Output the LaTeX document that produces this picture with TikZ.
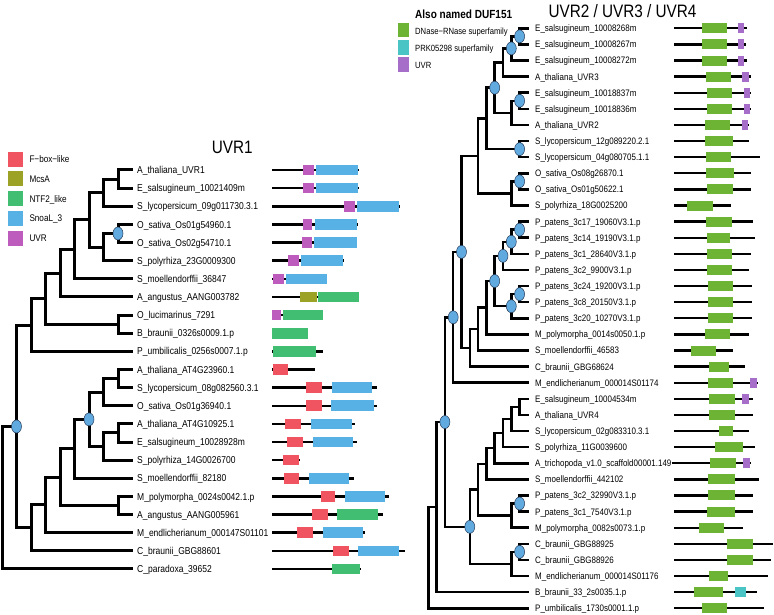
\documentclass[tikz,border=0pt]{standalone}
\usepackage{fontspec}
\setmainfont{Liberation Sans}[FakeStretch=0.85]
\usetikzlibrary{shapes.geometric}
\definecolor{cfbox}{RGB}{240,84,96}
\definecolor{cmcsa}{RGB}{155,162,38}
\definecolor{cntf}{RGB}{66,190,114}
\definecolor{csnoal}{RGB}{88,177,228}
\definecolor{cuvrl}{RGB}{190,92,190}
\definecolor{cdnase}{RGB}{110,180,52}
\definecolor{cprk}{RGB}{74,196,196}
\definecolor{cuvrr}{RGB}{166,110,200}
\definecolor{cbub}{RGB}{96,170,224}
\newcommand\YL[1]{170+18.136*#1}
\newcommand\YR[1]{28.3+16.11*#1}
\newcommand\mkLeafL[2]{\coordinate (L#1) at (132.5,{\YL{#1}}); \node[llab] (LT#1) at (137,{\YL{#1}}) {#2};}
\newcommand\mkNodeL[3]{\coordinate (#1) at ({2+14.5*#2},{\YL{#3}});}
\newcommand\mkEdgeL[2]{\draw[lbr] (#1) |- (#2);}
\newcommand\mkArchL[2]{\draw[larch] (272,{\YL{#1}}) -- (#2,{\YL{#1}});}
\newcommand\mkDomL[4]{\fill[#2] (#3,{\YL{#1}-5.3}) rectangle (#4,{\YL{#1}+5.3});}
\newcommand\mkLeafR[2]{\coordinate (R#1) at (528.5,{\YR{#1}}); \node[rlab] (RT#1) at (535,{\YR{#1}}) {#2};}
\newcommand\mkNodeR[3]{\coordinate (#1) at ({428.3+8.3*#2},{\YR{#3}});}
\newcommand\mkEdgeR[2]{\draw[rbr] (#1) |- (#2);}
\newcommand\mkArchR[2]{\draw[rarch] (674,{\YR{#1}}) -- (#2,{\YR{#1}});}
\newcommand\mkDomR[4]{\fill[#2] (#3,{\YR{#1}-5}) rectangle (#4,{\YR{#1}+5});}
\begin{document}
\begin{tikzpicture}[x=1pt,y=-1pt,
  llab/.style={anchor=west,inner xsep=0pt,inner ysep=0pt,text height=7.2pt,text depth=0pt,font=\fontsize{10}{10}\selectfont},
  rlab/.style={anchor=west,inner xsep=0pt,inner ysep=0pt,text height=6.8pt,text depth=0pt,font=\fontsize{9.4}{10}\selectfont},
  leglab/.style={anchor=west,inner xsep=0pt,inner ysep=0pt,text height=6.8pt,text depth=0pt,font=\fontsize{9.6}{10}\selectfont},
  rleglab/.style={anchor=west,inner xsep=0pt,inner ysep=0pt,text height=6.4pt,text depth=0pt,font=\fontsize{9}{10}\selectfont},
  lbr/.style={line width=3pt},
  rbr/.style={line width=2.5pt},
  larch/.style={line width=2.5pt},
  rarch/.style={line width=2.4pt},
  bub/.style={ellipse,fill=cbub,draw={rgb,255:red,40;green,60;blue,90},line width=0.5pt,minimum width=10pt,minimum height=13pt,inner sep=0pt},
  titl/.style={inner sep=0pt,text height=13pt,text depth=0pt,font=\fontsize{18}{18}\selectfont}
]
\useasboundingbox (0,0) rectangle (774,615);

% ---------------- titles ----------------
\node[titl] (t1) at (232.3,146.8) {UVR1};
\node[titl] (t2) at (622.5,11.5) {UVR2 / UVR3 / UVR4};

% ---------------- left legend ----------------
\foreach \k/\c/\t in {0/cfbox/F−box−like,1/cmcsa/McsA,2/cntf/NTF2\_like,3/csnoal/SnoaL\_3,4/cuvrl/UVR}{
  \fill[\c] (8.3,{159.3+19.7*\k-7.5}) rectangle (22.7,{159.3+19.7*\k+7.5});
  \node[leglab] (lg\k) at (29.3,{159.3+19.7*\k}) {\t};
}

% ---------------- right legend ----------------
\node[anchor=west,inner sep=0pt,text height=8pt,text depth=0pt,font=\fontsize{11.8}{12}\selectfont\bfseries] (rlh) at (415,15) {Also named DUF151};
\foreach \k/\c/\t in {0/cdnase/DNase−RNase superfamily,1/cprk/PRK05298 superfamily,2/cuvrr/UVR}{
  \fill[\c] (398.3,{30+17.4*\k-7.4}) rectangle (409.3,{30+17.4*\k+7.4});
  \node[rleglab] (rl\k) at (415,{31+17.4*\k}) {\t};
}

% ---------------- left tree leaves ----------------
\mkLeafL{0}{A\_thaliana\_UVR1}
\mkLeafL{1}{E\_salsugineum\_10021409m}
\mkLeafL{2}{S\_lycopersicum\_09g011730.3.1}
\mkLeafL{3}{O\_sativa\_Os01g54960.1}
\mkLeafL{4}{O\_sativa\_Os02g54710.1}
\mkLeafL{5}{S\_polyrhiza\_23G0009300}
\mkLeafL{6}{S\_moellendorffii\_36847}
\mkLeafL{7}{A\_angustus\_AANG003782}
\mkLeafL{8}{O\_lucimarinus\_7291}
\mkLeafL{9}{B\_braunii\_0326s0009.1.p}
\mkLeafL{10}{P\_umbilicalis\_0256s0007.1.p}
\mkLeafL{11}{A\_thaliana\_AT4G23960.1}
\mkLeafL{12}{S\_lycopersicum\_08g082560.3.1}
\mkLeafL{13}{O\_sativa\_Os01g36940.1}
\mkLeafL{14}{A\_thaliana\_AT4G10925.1}
\mkLeafL{15}{E\_salsugineum\_10028928m}
\mkLeafL{16}{S\_polyrhiza\_14G0026700}
\mkLeafL{17}{S\_moellendorffii\_82180}
\mkLeafL{18}{M\_polymorpha\_0024s0042.1.p}
\mkLeafL{19}{A\_angustus\_AANG005961}
\mkLeafL{20}{M\_endlicherianum\_000147S01101}
\mkLeafL{21}{C\_braunii\_GBG88601}
\mkLeafL{22}{C\_paradoxa\_39652}

% ---------------- left tree internal nodes ----------------
\mkNodeL{a01}{8}{0.5}
\mkNodeL{a012}{7}{1.25}
\mkNodeL{a34}{8}{3.5}
\mkNodeL{a345}{7}{4.25}
\mkNodeL{a05}{6}{2.75}
\mkNodeL{a06}{5}{4.375}
\mkNodeL{a07}{4}{5.6875}
\mkNodeL{a89}{8}{8.5}
\mkNodeL{a09}{3}{7.09375}
\mkNodeL{a010}{2}{8.546875}
\mkNodeL{b1112}{8}{11.5}
\mkNodeL{b1113}{7}{12.25}
\mkNodeL{b1415}{8}{14.5}
\mkNodeL{b1416}{7}{15.25}
\mkNodeL{b1116}{6}{13.75}
\mkNodeL{b1117}{5}{15.375}
\mkNodeL{b1819}{8}{18.5}
\mkNodeL{b1119}{4}{16.9375}
\mkNodeL{b1120}{3}{18.46875}
\mkNodeL{b1121}{2}{19.734375}
\mkNodeL{aA}{1}{14.140625}
\mkNodeL{aroot}{0}{18.0703125}

\mkEdgeL{a01}{L0}\mkEdgeL{a01}{L1}
\mkEdgeL{a012}{a01}\mkEdgeL{a012}{L2}
\mkEdgeL{a34}{L3}\mkEdgeL{a34}{L4}
\mkEdgeL{a345}{a34}\mkEdgeL{a345}{L5}
\mkEdgeL{a05}{a012}\mkEdgeL{a05}{a345}
\mkEdgeL{a06}{a05}\mkEdgeL{a06}{L6}
\mkEdgeL{a07}{a06}\mkEdgeL{a07}{L7}
\mkEdgeL{a89}{L8}\mkEdgeL{a89}{L9}
\mkEdgeL{a09}{a07}\mkEdgeL{a09}{a89}
\mkEdgeL{a010}{a09}\mkEdgeL{a010}{L10}
\mkEdgeL{b1112}{L11}\mkEdgeL{b1112}{L12}
\mkEdgeL{b1113}{b1112}\mkEdgeL{b1113}{L13}
\mkEdgeL{b1415}{L14}\mkEdgeL{b1415}{L15}
\mkEdgeL{b1416}{b1415}\mkEdgeL{b1416}{L16}
\mkEdgeL{b1116}{b1113}\mkEdgeL{b1116}{b1416}
\mkEdgeL{b1117}{b1116}\mkEdgeL{b1117}{L17}
\mkEdgeL{b1819}{L18}\mkEdgeL{b1819}{L19}
\mkEdgeL{b1119}{b1117}\mkEdgeL{b1119}{b1819}
\mkEdgeL{b1120}{b1119}\mkEdgeL{b1120}{L20}
\mkEdgeL{b1121}{b1120}\mkEdgeL{b1121}{L21}
\mkEdgeL{aA}{a010}\mkEdgeL{aA}{b1121}
\mkEdgeL{aroot}{aA}\mkEdgeL{aroot}{L22}

\node[bub] (ca34) at (a34) {};
\node[bub] (cb1116) at (b1116) {};
\node[bub] (caA) at (aA) {};

% ---------------- left domain architectures ----------------
\mkArchL{0}{359}\mkDomL{0}{cuvrl}{303.3}{314.3}\mkDomL{0}{csnoal}{316}{358.3}
\mkArchL{1}{359}\mkDomL{1}{cuvrl}{303.3}{314.3}\mkDomL{1}{csnoal}{316}{358.3}
\mkArchL{2}{399.5}\mkDomL{2}{cuvrl}{344.3}{355.3}\mkDomL{2}{csnoal}{357}{399}
\mkArchL{3}{358.3}\mkDomL{3}{cuvrl}{302.7}{312.3}\mkDomL{3}{csnoal}{315.3}{357.3}
\mkArchL{4}{357.3}\mkDomL{4}{cuvrl}{301.7}{312.3}\mkDomL{4}{csnoal}{314.3}{356.7}
\mkArchL{5}{344}\mkDomL{5}{cuvrl}{288.3}{299.3}\mkDomL{5}{csnoal}{301}{343.3}
\mkArchL{6}{326}\mkDomL{6}{cuvrl}{273.3}{284}\mkDomL{6}{csnoal}{286}{326.7}
\mkArchL{7}{359}\mkDomL{7}{cmcsa}{300.3}{316.7}\mkDomL{7}{cntf}{318.3}{359}
\mkArchL{8}{323}\mkDomL{8}{cuvrl}{272.3}{281}\mkDomL{8}{cntf}{282.7}{323.3}
\mkArchL{9}{307}\mkDomL{9}{cntf}{272.3}{307.7}
\mkArchL{10}{322.7}\mkDomL{10}{cntf}{273}{316}
\mkArchL{11}{315}\mkDomL{11}{cfbox}{273}{288.3}
\mkArchL{12}{376.7}\mkDomL{12}{cfbox}{306}{322}\mkDomL{12}{csnoal}{332}{372}
\mkArchL{13}{376.7}\mkDomL{13}{cfbox}{306}{321.7}\mkDomL{13}{csnoal}{331.3}{374}
\mkArchL{14}{354.7}\mkDomL{14}{cfbox}{285}{301}\mkDomL{14}{csnoal}{310.7}{351.7}
\mkArchL{15}{356.7}\mkDomL{15}{cfbox}{287.3}{303.3}\mkDomL{15}{csnoal}{312.7}{353.3}
\mkArchL{16}{300}\mkDomL{16}{cfbox}{283}{298.7}
\mkArchL{17}{354}\mkDomL{17}{cfbox}{283.7}{299.3}\mkDomL{17}{csnoal}{309}{349.3}
\mkArchL{18}{389.3}\mkDomL{18}{cfbox}{321}{335}\mkDomL{18}{csnoal}{344.7}{385.3}
\mkArchL{19}{382.7}\mkDomL{19}{cfbox}{312}{328}\mkDomL{19}{cntf}{337.3}{377.7}
\mkArchL{20}{365.3}\mkDomL{20}{cfbox}{297.3}{313.3}\mkDomL{20}{csnoal}{322.7}{363.3}
\mkArchL{21}{405}\mkDomL{21}{cfbox}{333}{348.7}\mkDomL{21}{csnoal}{358.3}{398.7}
\mkArchL{22}{360.7}\mkDomL{22}{cntf}{332}{360}

% ---------------- right tree leaves ----------------
\mkLeafR{0}{E\_salsugineum\_10008268m}
\mkLeafR{1}{E\_salsugineum\_10008267m}
\mkLeafR{2}{E\_salsugineum\_10008272m}
\mkLeafR{3}{A\_thaliana\_UVR3}
\mkLeafR{4}{E\_salsugineum\_10018837m}
\mkLeafR{5}{E\_salsugineum\_10018836m}
\mkLeafR{6}{A\_thaliana\_UVR2}
\mkLeafR{7}{S\_lycopersicum\_12g089220.2.1}
\mkLeafR{8}{S\_lycopersicum\_04g080705.1.1}
\mkLeafR{9}{O\_sativa\_Os08g26870.1}
\mkLeafR{10}{O\_sativa\_Os01g50622.1}
\mkLeafR{11}{S\_polyrhiza\_18G0025200}
\mkLeafR{12}{P\_patens\_3c17\_19060V3.1.p}
\mkLeafR{13}{P\_patens\_3c14\_19190V3.1.p}
\mkLeafR{14}{P\_patens\_3c1\_28640V3.1.p}
\mkLeafR{15}{P\_patens\_3c2\_9900V3.1.p}
\mkLeafR{16}{P\_patens\_3c24\_19200V3.1.p}
\mkLeafR{17}{P\_patens\_3c8\_20150V3.1.p}
\mkLeafR{18}{P\_patens\_3c20\_10270V3.1.p}
\mkLeafR{19}{M\_polymorpha\_0014s0050.1.p}
\mkLeafR{20}{S\_moellendorffii\_46583}
\mkLeafR{21}{C\_braunii\_GBG68624}
\mkLeafR{22}{M\_endlicherianum\_000014S01174}
\mkLeafR{23}{E\_salsugineum\_10004534m}
\mkLeafR{24}{A\_thaliana\_UVR4}
\mkLeafR{25}{S\_lycopersicum\_02g083310.3.1}
\mkLeafR{26}{S\_polyrhiza\_11G0039600}
\mkLeafR{27}{A\_trichopoda\_v1.0\_scaffold00001.149}
\mkLeafR{28}{S\_moellendorffii\_442102}
\mkLeafR{29}{P\_patens\_3c2\_32990V3.1.p}
\mkLeafR{30}{P\_patens\_3c1\_7540V3.1.p}
\mkLeafR{31}{M\_polymorpha\_0082s0073.1.p}
\mkLeafR{32}{C\_braunii\_GBG88925}
\mkLeafR{33}{C\_braunii\_GBG88926}
\mkLeafR{34}{M\_endlicherianum\_000014S01176}
\mkLeafR{35}{B\_braunii\_33\_2s0035.1.p}
\mkLeafR{36}{P\_umbilicalis\_1730s0001.1.p}

% ---------------- right tree internal nodes ----------------
\mkNodeR{r01}{11}{0.5}
\mkNodeR{r012}{10}{1.25}
\mkNodeR{r03}{9}{2.125}
\mkNodeR{r45}{11}{4.5}
\mkNodeR{r456}{10}{5.25}
\mkNodeR{r06}{8}{3.6875}
\mkNodeR{r78}{11}{7.5}
\mkNodeR{rP1}{7}{5.59375}
\mkNodeR{r910}{11}{9.5}
\mkNodeR{r911}{10}{10.25}
\mkNodeR{rP2}{6}{7.921875}
\mkNodeR{r1213}{11}{12.5}
\mkNodeR{r1214}{10}{13.25}
\mkNodeR{r1215}{9}{14.125}
\mkNodeR{r1617}{11}{16.5}
\mkNodeR{r1618}{10}{17.25}
\mkNodeR{r1218}{8}{15.6875}
\mkNodeR{r1219}{7}{17.34375}
\mkNodeR{r1220}{6}{18.671875}
\mkNodeR{r1221}{5}{19.8359375}
\mkNodeR{rQ}{4}{13.87890625}
\mkNodeR{rR}{3}{17.939453}
\mkNodeR{r2324}{11}{23.5}
\mkNodeR{r2325}{10}{24.25}
\mkNodeR{r2326}{9}{25.125}
\mkNodeR{r2327}{8}{26.0625}
\mkNodeR{r2328}{7}{27.03125}
\mkNodeR{r2930}{11}{29.5}
\mkNodeR{r2931}{10}{30.25}
\mkNodeR{r2331}{6}{28.640625}
\mkNodeR{r3233}{11}{32.5}
\mkNodeR{r3234}{10}{33.25}
\mkNodeR{rT}{5}{30.9453125}
\mkNodeR{rS}{2}{24.442383}
\mkNodeR{rU}{1}{29.721191}
\mkNodeR{rroot}{0}{33.360596}

\mkEdgeR{r01}{R0}\mkEdgeR{r01}{R1}
\mkEdgeR{r012}{r01}\mkEdgeR{r012}{R2}
\mkEdgeR{r03}{r012}\mkEdgeR{r03}{R3}
\mkEdgeR{r45}{R4}\mkEdgeR{r45}{R5}
\mkEdgeR{r456}{r45}\mkEdgeR{r456}{R6}
\mkEdgeR{r06}{r03}\mkEdgeR{r06}{r456}
\mkEdgeR{r78}{R7}\mkEdgeR{r78}{R8}
\mkEdgeR{rP1}{r06}\mkEdgeR{rP1}{r78}
\mkEdgeR{r910}{R9}\mkEdgeR{r910}{R10}
\mkEdgeR{r911}{r910}\mkEdgeR{r911}{R11}
\mkEdgeR{rP2}{rP1}\mkEdgeR{rP2}{r911}
\mkEdgeR{r1213}{R12}\mkEdgeR{r1213}{R13}
\mkEdgeR{r1214}{r1213}\mkEdgeR{r1214}{R14}
\mkEdgeR{r1215}{r1214}\mkEdgeR{r1215}{R15}
\mkEdgeR{r1617}{R16}\mkEdgeR{r1617}{R17}
\mkEdgeR{r1618}{r1617}\mkEdgeR{r1618}{R18}
\mkEdgeR{r1218}{r1215}\mkEdgeR{r1218}{r1618}
\mkEdgeR{r1219}{r1218}\mkEdgeR{r1219}{R19}
\mkEdgeR{r1220}{r1219}\mkEdgeR{r1220}{R20}
\mkEdgeR{r1221}{r1220}\mkEdgeR{r1221}{R21}
\mkEdgeR{rQ}{rP2}\mkEdgeR{rQ}{r1221}
\mkEdgeR{rR}{rQ}\mkEdgeR{rR}{R22}
\mkEdgeR{r2324}{R23}\mkEdgeR{r2324}{R24}
\mkEdgeR{r2325}{r2324}\mkEdgeR{r2325}{R25}
\mkEdgeR{r2326}{r2325}\mkEdgeR{r2326}{R26}
\mkEdgeR{r2327}{r2326}\mkEdgeR{r2327}{R27}
\mkEdgeR{r2328}{r2327}\mkEdgeR{r2328}{R28}
\mkEdgeR{r2930}{R29}\mkEdgeR{r2930}{R30}
\mkEdgeR{r2931}{r2930}\mkEdgeR{r2931}{R31}
\mkEdgeR{r2331}{r2328}\mkEdgeR{r2331}{r2931}
\mkEdgeR{r3233}{R32}\mkEdgeR{r3233}{R33}
\mkEdgeR{r3234}{r3233}\mkEdgeR{r3234}{R34}
\mkEdgeR{rT}{r2331}\mkEdgeR{rT}{r3234}
\mkEdgeR{rS}{rR}\mkEdgeR{rS}{rT}
\mkEdgeR{rU}{rS}\mkEdgeR{rU}{R35}
\mkEdgeR{rroot}{rU}\mkEdgeR{rroot}{R36}

\foreach \n in {r01,r012,r06,r45,r78,r910,r1213,r1214,r1215,r1617,r1618,r1218,rQ,rR,rS,rT,r2930,r3233}{
  \node[bub] (c\n) at (\n) {};
}

% ---------------- right domain architectures ----------------
\mkArchR{0}{746.7}\mkDomR{0}{cdnase}{702.3}{726.7}\mkDomR{0}{cuvrr}{738.3}{744.3}
\mkArchR{1}{746}\mkDomR{1}{cdnase}{702.3}{726.7}\mkDomR{1}{cuvrr}{738.3}{744.3}
\mkArchR{2}{746.7}\mkDomR{2}{cdnase}{702.3}{726.7}\mkDomR{2}{cuvrr}{738.3}{744.3}
\mkArchR{3}{750.7}\mkDomR{3}{cdnase}{706}{730.7}\mkDomR{3}{cuvrr}{742.3}{748.7}
\mkArchR{4}{751.3}\mkDomR{4}{cdnase}{707}{731.7}\mkDomR{4}{cuvrr}{744.3}{750}
\mkArchR{5}{751.3}\mkDomR{5}{cdnase}{707}{731.7}\mkDomR{5}{cuvrr}{744.3}{750}
\mkArchR{6}{749.3}\mkDomR{6}{cdnase}{705.3}{730}\mkDomR{6}{cuvrr}{742}{748}
\mkArchR{7}{749.3}\mkDomR{7}{cdnase}{705.3}{732.7}
\mkArchR{8}{760}\mkDomR{8}{cdnase}{706}{730.7}
\mkArchR{9}{750.7}\mkDomR{9}{cdnase}{706}{734}
\mkArchR{10}{750.7}\mkDomR{10}{cdnase}{707.3}{733.3}
\mkArchR{11}{730.7}\mkDomR{11}{cdnase}{687.3}{713.3}
\mkArchR{12}{752.7}\mkDomR{12}{cdnase}{706}{731.7}
\mkArchR{13}{755.3}\mkDomR{13}{cdnase}{707.3}{730}
\mkArchR{14}{751.3}\mkDomR{14}{cdnase}{706.7}{732}
\mkArchR{15}{749.3}\mkDomR{15}{cdnase}{706.7}{731.7}
\mkArchR{16}{752}\mkDomR{16}{cdnase}{708.3}{733.3}
\mkArchR{17}{752}\mkDomR{17}{cdnase}{707.7}{733.3}
\mkArchR{18}{751.7}\mkDomR{18}{cdnase}{708.3}{733.3}
\mkArchR{19}{749.3}\mkDomR{19}{cdnase}{704.7}{730}
\mkArchR{20}{732.7}\mkDomR{20}{cdnase}{691}{716}
\mkArchR{21}{745}\mkDomR{21}{cdnase}{709.3}{729.3}
\mkArchR{22}{757.7}\mkDomR{22}{cdnase}{707.7}{733.3}\mkDomR{22}{cuvrr}{750}{756.7}
\mkArchR{23}{752.7}\mkDomR{23}{cdnase}{709.3}{735}\mkDomR{23}{cuvrr}{742.3}{749}
\mkArchR{24}{753.3}\mkDomR{24}{cdnase}{709.3}{735}
\mkArchR{25}{749.3}\mkDomR{25}{cdnase}{719.3}{732.7}
\mkArchR{26}{754.7}\mkDomR{26}{cdnase}{715.3}{742.7}
\draw[rarch] (671.7,{\YR{27}}) -- (750.7,{\YR{27}});
\mkDomR{27}{cdnase}{710}{735.7}\mkDomR{27}{cuvrr}{743.3}{750}
\mkArchR{28}{759}\mkDomR{28}{cdnase}{707.7}{735}
\mkArchR{29}{752.7}\mkDomR{29}{cdnase}{707.7}{735}
\mkArchR{30}{752.7}\mkDomR{30}{cdnase}{707.3}{735}
\mkArchR{31}{742.7}\mkDomR{31}{cdnase}{698.7}{724.3}
\mkArchR{32}{773.3}\mkDomR{32}{cdnase}{727.3}{753.3}
\mkArchR{33}{770.7}\mkDomR{33}{cdnase}{727.3}{753.3}
\mkArchR{34}{768.3}\mkDomR{34}{cdnase}{709.3}{728.3}
\mkArchR{35}{757.3}\mkDomR{35}{cdnase}{694.3}{723.3}\mkDomR{35}{cprk}{735}{746}
\mkArchR{36}{764}\mkDomR{36}{cdnase}{702}{727.3}
\end{tikzpicture}
\end{document}
